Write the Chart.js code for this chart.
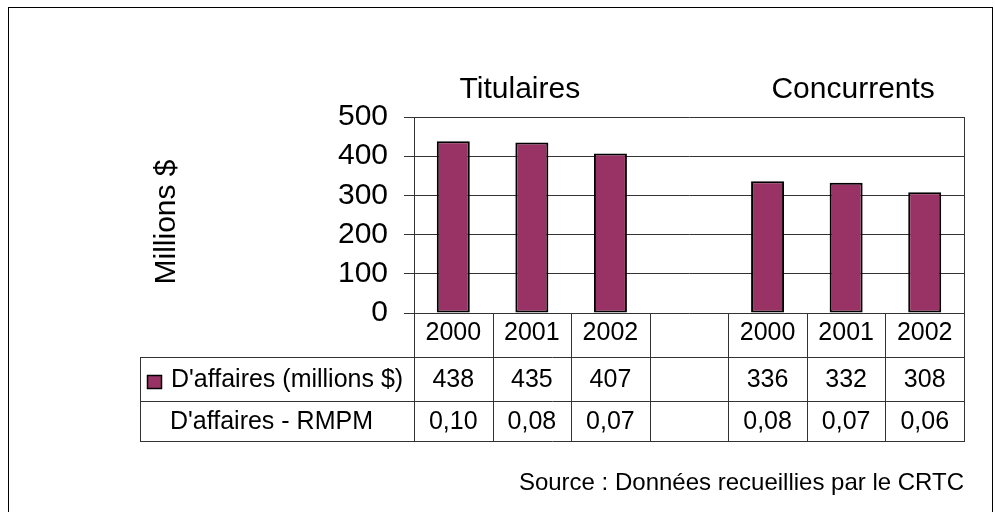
<!DOCTYPE html>
<html lang="fr">
<head>
<meta charset="utf-8">
<title>Revenus d'affaires</title>
<script src="https://cdn.jsdelivr.net/npm/chart.js@4"></script>
<style>
  html, body { margin: 0; padding: 0; background: #fff; }
  canvas { display: block; }
</style>
</head>
<body>
<canvas id="chart" width="995" height="512"></canvas>
<script>
// Categories: two groups of three years, separated by an empty slot
const categories = ['2000', '2001', '2002', '', '2000', '2001', '2002'];
const groupTitles = ['Titulaires', 'Concurrents'];
const revenue = [438, 435, 407, null, 336, 332, 308];
const rmpm = [0.10, 0.08, 0.07, null, 0.08, 0.07, 0.06];
const seriesNames = ["D'affaires (millions $)", "D'affaires - RMPM"];
const yTicks = { min: 0, max: 500, step: 100 };
const axisTitle = 'Millions $';
const sourceNote = 'Source : Données recueillies par le CRTC';

const FONT = "'Liberation Sans', Arial, Helvetica, sans-serif";
const BAR = '#993366';
const LINE = '#333333';

const fmtRevenue = v => (v == null ? '' : String(v));
const fmtRmpm = v => (v == null ? '' : v.toFixed(2).replace('.', ','));

// Frame, group titles, axis title, data table and source note
const decorations = {
  id: 'decorations',
  afterDraw(chart) {
    const ctx = chart.ctx;
    const area = chart.chartArea;
    const xs = chart.scales.x;
    const n = categories.length;
    const px = v => Math.round(v) + 0.5;

    ctx.save();

    // outer frame
    ctx.strokeStyle = '#000';
    ctx.lineWidth = 1;
    ctx.strokeRect(8.5, 7.5, 984, 700);

    // group titles
    ctx.fillStyle = '#000';
    ctx.font = '30px ' + FONT;
    ctx.textAlign = 'center';
    ctx.textBaseline = 'alphabetic';
    ctx.fillText(groupTitles[0], xs.getPixelForValue(1) - 12, 98);
    ctx.fillText(groupTitles[1], xs.getPixelForValue(5) + 7, 98);

    // vertical axis title
    ctx.save();
    ctx.translate(167, 222);
    ctx.rotate(-Math.PI / 2);
    ctx.textBaseline = 'middle';
    ctx.fillText(axisTitle, 0, 0);
    ctx.restore();

    // data table geometry
    const centers = categories.map((_, i) => xs.getPixelForValue(i));
    const bounds = [area.left];
    for (let i = 1; i < n; i++) bounds.push((centers[i - 1] + centers[i]) / 2);
    bounds.push(area.right);
    const r0 = area.bottom, r1 = r0 + 44, r2 = r1 + 44, r3 = r2 + 40;
    const tableLeft = 140;

    ctx.strokeStyle = LINE;
    ctx.lineWidth = 1;
    ctx.beginPath();
    [r1, r2, r3].forEach(y => {
      ctx.moveTo(tableLeft, px(y));
      ctx.lineTo(area.right + 1, px(y));
    });
    bounds.forEach((x, i) => {
      const top = (i === 0 || i === bounds.length - 1) ? area.top : r0;
      ctx.moveTo(px(x), top);
      ctx.lineTo(px(x), r3);
    });
    ctx.moveTo(px(tableLeft), r1);
    ctx.lineTo(px(tableLeft), r3);
    ctx.stroke();

    // table text
    ctx.fillStyle = '#000';
    ctx.font = '25px ' + FONT;
    ctx.textAlign = 'center';
    ctx.textBaseline = 'middle';
    categories.forEach((c, i) => ctx.fillText(c, centers[i], r0 + 20));
    revenue.forEach((v, i) => ctx.fillText(fmtRevenue(v), centers[i], (r1 + r2) / 2 + 1));
    rmpm.forEach((v, i) => ctx.fillText(fmtRmpm(v), centers[i], (r2 + r3) / 2 + 1));

    // row headers with legend key
    ctx.fillStyle = BAR;
    ctx.fillRect(147, r1 + 18, 15, 14);
    ctx.strokeStyle = '#000';
    ctx.lineWidth = 1.5;
    ctx.strokeRect(147.5, r1 + 18.5, 14, 13);
    ctx.fillStyle = '#000';
    ctx.textAlign = 'left';
    ctx.fillText(seriesNames[0], 171, (r1 + r2) / 2 + 1);
    ctx.fillText(seriesNames[1], 170, (r2 + r3) / 2 + 1);

    // source note
    ctx.font = '24px ' + FONT;
    ctx.textAlign = 'right';
    ctx.textBaseline = 'alphabetic';
    ctx.fillText(sourceNote, 964, 490);

    ctx.restore();
  }
};

new Chart(document.getElementById('chart'), {
  type: 'bar',
  data: {
    labels: categories,
    datasets: [{
      label: seriesNames[0],
      data: revenue,
      backgroundColor: BAR,
      borderColor: '#000',
      borderWidth: 2,
      borderSkipped: false,
      barPercentage: 0.42,
      categoryPercentage: 1
    }]
  },
  options: {
    responsive: false,
    animation: false,
    layout: { padding: { top: 117, right: 31, bottom: 199, left: 0 } },
    plugins: {
      legend: { display: false },
      tooltip: { enabled: false }
    },
    scales: {
      x: { display: false },
      y: {
        min: yTicks.min,
        max: yTicks.max,
        afterFit(scale) { scale.width = 414; },
        ticks: {
          stepSize: yTicks.step,
          color: '#000',
          padding: 16,
          font: { family: FONT, size: 30 }
        },
        grid: { color: LINE, lineWidth: 1, tickLength: 10, drawTicks: true },
        border: { display: true, color: LINE, width: 1 }
      }
    }
  },
  plugins: [decorations]
});
</script>
</body>
</html>
